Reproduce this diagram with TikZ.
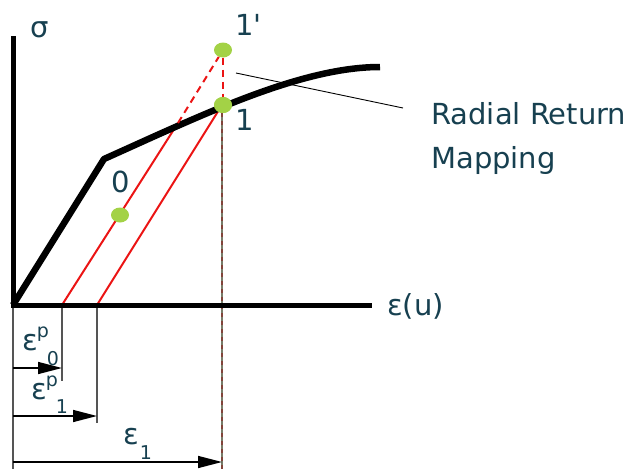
\documentclass[tikz,border=0pt]{standalone}
\usepackage{fontspec}
\setmainfont{DejaVu Sans}
\newfontfamily\nolig{DejaVu Sans}
\usetikzlibrary{arrows.meta,shapes.geometric}
\definecolor{txt}{RGB}{23,64,80}
\definecolor{dotg}{RGB}{163,210,70}
\definecolor{redl}{RGB}{235,20,20}
\definecolor{guideg}{RGB}{85,85,85}
\definecolor{oliveg}{RGB}{120,125,105}
\begin{document}
\begin{tikzpicture}[x=1pt,y=-1pt,
  lbl/.style={text=txt, font=\fontsize{29}{32}\selectfont, inner sep=0pt},
  sml/.style={text=txt, font=\fontsize{19}{21}\selectfont, inner sep=0pt},
  dotnode/.style={ellipse, fill=dotg, minimum width=18pt, minimum height=15pt, inner sep=0pt},
  axisln/.style={line width=5pt},
  curveln/.style={line width=6.5pt, line join=round},
  redln/.style={redl, line width=2pt},
  reddash/.style={redl, line width=2pt, dash pattern=on 7pt off 5pt},
  guideln/.style={guideg, line width=1.4pt},
  dimarrow/.style={-{Triangle[length=24pt,width=12pt]}, line width=1.5pt},
  leader/.style={line width=0.9pt}]
\useasboundingbox (0,0) rectangle (630,469);

% key coordinates
\coordinate (O) at (13,305);
\coordinate (Ytop) at (13,36);
\coordinate (Xend) at (372,305);
\coordinate (K) at (104,159);
\coordinate (Cend) at (380,67);
\coordinate (P0) at (62,305);
\coordinate (P1) at (97,305);
\coordinate (Yint) at (178,123);
\coordinate (E1) at (222,105);

% guide lines (below)
\coordinate (G0) at (62,381);
\coordinate (G1) at (97,423);
\coordinate (Gl) at (13,469);
\coordinate (Ge) at (222,469);
\draw[guideln] (P0) -- (G0);
\draw[guideln] (P1) -- (G1);
\draw[guideln] (O) -- (Gl);
\draw[oliveg, line width=1.5pt] (E1) -- (Ge);
\draw[redl!60!black, line width=1.5pt, dash pattern=on 4pt off 4pt, opacity=0.5] (E1) -- (Ge);

% red elastic predictor lines
\draw[redln] (P0) -- (Yint);
\draw[redln] (P1) -- (E1);

% axes and curve
\draw[axisln] (Ytop) -- (O) -- (Xend);
\draw[curveln] (O) -- (K) .. controls (200,116) and (300,67) .. (Cend);

% dots
\node[dotnode] (d1p) at (223,50) {};
\node[dotnode, minimum height=16pt] (d1) at (223,105) {};
\node[dotnode] (d0) at (120,215) {};

% dashed lines to trial point
\draw[reddash] (Yint) -- (d1p);
\draw[reddash] (d1p) -- (d1);
\node[dotnode, minimum height=16pt] at (223,105) {};

% leader line
\coordinate (La) at (236,73);
\coordinate (Lb) at (403,108);
\draw[leader] (La) -- (Lb);

% labels
\node[lbl] (sig) at (40,30) {σ};
\node[lbl, anchor=base west] (l1p) at (235,35) {1{\nolig '}};
\node[lbl, anchor=base west] (l1) at (235,130) {1};
\node[lbl] (l0) at (120.5,182) {0};
\node[lbl, anchor=base west] (eu) at (387,315) {ε(u)};
\node[lbl, anchor=base west] (rr) at (431,124) {Radial Return};
\node[lbl, anchor=base west] (mp) at (431,168) {Mapping};

% dimension arrows
\coordinate (A0s) at (13,368);
\coordinate (A0e) at (62,368);
\coordinate (A1s) at (13,416);
\coordinate (A1e) at (97,416);
\coordinate (A2s) at (13,462);
\coordinate (A2e) at (222,462);
\draw[dimarrow] (A0s) -- (A0e);
\draw[dimarrow] (A1s) -- (A1e);
\draw[dimarrow] (A2s) -- (A2e);

% epsilon labels
\node[lbl] (e0) at (30,343) {ε};
\node[sml] (e0p) at (43,334) {p};
\node[sml] (e0s) at (53,359) {0};
\node[lbl] (e1) at (39,392) {ε};
\node[sml] (e1p) at (52,383) {p};
\node[sml] (e1s) at (62,407) {1};
\node[lbl] (e2) at (131,437) {ε};
\node[sml] (e2s) at (146,453) {1};
\end{tikzpicture}
\end{document}
